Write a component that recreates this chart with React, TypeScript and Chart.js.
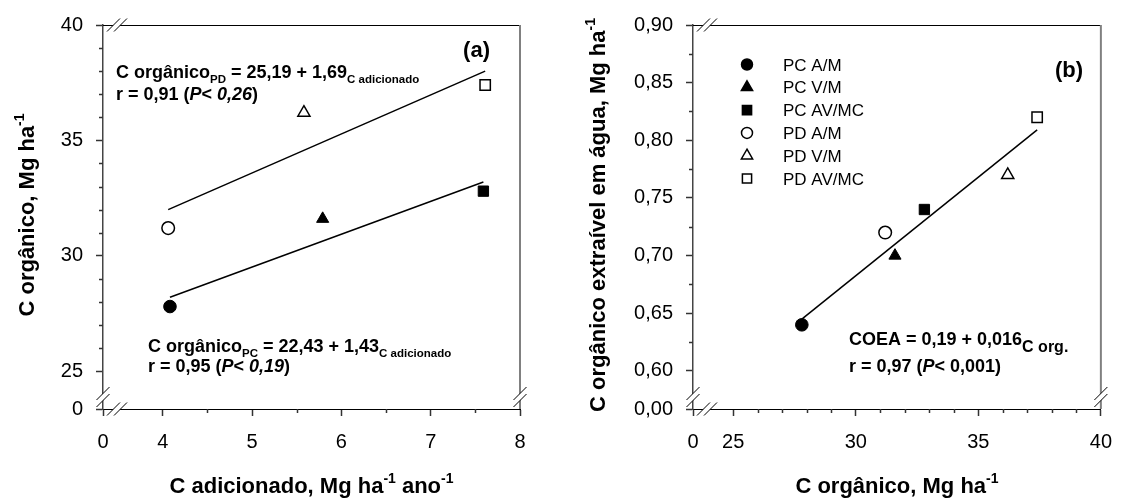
import React, { useEffect, useRef } from 'react';
import { Chart, registerables } from 'chart.js';
import { drawPoint } from 'chart.js/helpers';

Chart.register(...registerables);

// ---------------- DATA ----------------
const treatments = ['PC A/M', 'PC V/M', 'PC AV/MC', 'PD A/M', 'PD V/M', 'PD AV/MC'];
const markerStyles = ['circle', 'triangle', 'rect', 'circle', 'triangle', 'rect'];
const markerFilled = [true, true, true, false, false, false];

// panel (a): C adicionado (x) vs C orgânico (y)
const cAdicionado = [4.08, 5.79, 7.59, 4.06, 5.58, 7.61];
const cOrganico = [27.8, 31.6, 32.8, 31.2, 36.2, 37.4];
// panel (b): C orgânico (x) vs COEA (y)
const coea = [0.64, 0.70, 0.74, 0.72, 0.77, 0.82];

// fitted lines (end points)
const fitPdX = [4.06, 7.61];
const fitPdY = [32.0, 38.0];
const fitPcX = [4.08, 7.59];
const fitPcY = [28.2, 33.2];
const fitBX = [27.8, 37.4];
const fitBY = [0.645, 0.809];

// ticks
const aXMajor = [4, 5, 6, 7, 8];
const aXMinor = [4.5, 5.5, 6.5, 7.5];
const aYMajor = [25, 30, 35, 40];
const aYMinor = [26, 27, 28, 29, 31, 32, 33, 34, 36, 37, 38, 39];
const bXMajor = [25, 30, 35, 40];
const bXMinor = [26, 27, 28, 29, 31, 32, 33, 34, 36, 37, 38, 39];
const bYMajor = [0.6, 0.65, 0.7, 0.75, 0.8, 0.85, 0.9];
const bYMinor = [0.625, 0.675, 0.725, 0.775, 0.825, 0.875];
// axis break positions (shown as "0")
const aXBreak = 3.33;
const aYBreak = 23.36;
const bXBreak = 23.36;
const bYBreak = 0.567;

// ---------------- STYLE HELPERS ----------------
const FONT = '"Liberation Sans", Arial, Helvetica, sans-serif';
const fnt = (size: number, bold = false, italic = false) =>
  `${italic ? 'italic ' : ''}${bold ? 'bold ' : ''}${size}px ${FONT}`;

type Seg = { t: string; font: string; dy?: number };

function drawRich(ctx: CanvasRenderingContext2D, x: number, y: number, segs: Seg[], align: 'left' | 'center' | 'right' = 'left') {
  let w = 0;
  segs.forEach((s) => {
    ctx.font = s.font;
    w += ctx.measureText(s.t).width;
  });
  let cx = align === 'center' ? x - w / 2 : align === 'right' ? x - w : x;
  ctx.textAlign = 'left';
  ctx.textBaseline = 'alphabetic';
  ctx.fillStyle = '#000';
  segs.forEach((s) => {
    ctx.font = s.font;
    ctx.fillText(s.t, cx, y + (s.dy || 0));
    cx += ctx.measureText(s.t).width;
  });
}

function breakMark(ctx: CanvasRenderingContext2D, cx: number, cy: number, orient: 'h' | 'v') {
  const d = 3.5;
  const hx = 6.5;
  const hy = 6.5;
  ctx.save();
  ctx.fillStyle = '#fff';
  ctx.beginPath();
  let s1: number[];
  let s2: number[];
  if (orient === 'h') {
    s1 = [cx - d - hx, cy + hy, cx - d + hx, cy - hy];
    s2 = [cx + d - hx, cy + hy, cx + d + hx, cy - hy];
  } else {
    s1 = [cx - hx, cy - d + hy, cx + hx, cy - d - hy];
    s2 = [cx - hx, cy + d + hy, cx + hx, cy + d - hy];
  }
  ctx.moveTo(s1[0], s1[1]);
  ctx.lineTo(s1[2], s1[3]);
  ctx.lineTo(s2[2], s2[3]);
  ctx.lineTo(s2[0], s2[1]);
  ctx.closePath();
  ctx.fill();
  ctx.strokeStyle = '#000';
  ctx.lineWidth = 1;
  ctx.beginPath();
  ctx.moveTo(s1[0], s1[1]);
  ctx.lineTo(s1[2], s1[3]);
  ctx.moveTo(s2[0], s2[1]);
  ctx.lineTo(s2[2], s2[3]);
  ctx.stroke();
  ctx.restore();
}

interface Note {
  x: number;
  y: number;
  segs: Seg[];
}

interface PanelSpec {
  left: number;
  width: number;
  yAxisWidth: number;
  padRight: number;
  xs: number[];
  ys: number[];
  fits: { x: number[]; y: number[] }[];
  xMin: number;
  xMax: number;
  yMin: number;
  yMax: number;
  xMajor: number[];
  xMinor: number[];
  yMajor: number[];
  yMinor: number[];
  xFmt: (v: number) => string;
  yFmt: (v: number) => string;
  yZero: string;
  xTitle: Seg[];
  yTitle: Seg[];
  yTitleX: number;
  notes: Note[];
  label: { t: string; x: number; y: number };
  legend?: { mx: number; tx: number; y0: number; dy: number };
}

const B18 = fnt(18, true);
const BI18 = fnt(18, true, true);
const SUB = fnt(11.5, true);
const TITLE = fnt(22, true);
const SUP = fnt(14, true);

const panelA: PanelSpec = {
  left: 0,
  width: 560,
  yAxisWidth: 103,
  padRight: 40,
  xs: cAdicionado,
  ys: cOrganico,
  fits: [
    { x: fitPdX, y: fitPdY },
    { x: fitPcX, y: fitPcY },
  ],
  xMin: aXBreak,
  xMax: 8,
  yMin: aYBreak,
  yMax: 40,
  xMajor: aXMajor,
  xMinor: aXMinor,
  yMajor: aYMajor,
  yMinor: aYMinor,
  xFmt: (v) => String(v),
  yFmt: (v) => String(v),
  yZero: '0',
  xTitle: [
    { t: 'C adicionado, Mg ha', font: TITLE },
    { t: '-1', font: SUP, dy: -10 },
    { t: ' ano', font: TITLE },
    { t: '-1', font: SUP, dy: -10 },
  ],
  yTitle: [
    { t: 'C orgânico, Mg ha', font: TITLE },
    { t: '-1', font: SUP, dy: -10 },
  ],
  yTitleX: 34,
  notes: [
    {
      x: 116,
      y: 78,
      segs: [
        { t: 'C orgânico', font: B18 },
        { t: 'PD', font: SUB, dy: 5 },
        { t: ' = 25,19 + 1,69', font: B18 },
        { t: 'C adicionado', font: SUB, dy: 5 },
      ],
    },
    {
      x: 116,
      y: 100,
      segs: [
        { t: 'r = 0,91 (', font: B18 },
        { t: 'P', font: BI18 },
        { t: '< ', font: B18 },
        { t: '0,26', font: BI18 },
        { t: ')', font: B18 },
      ],
    },
    {
      x: 148,
      y: 351.5,
      segs: [
        { t: 'C orgânico', font: B18 },
        { t: 'PC', font: SUB, dy: 5 },
        { t: ' = 22,43 + 1,43', font: B18 },
        { t: 'C adicionado', font: SUB, dy: 5 },
      ],
    },
    {
      x: 148,
      y: 372,
      segs: [
        { t: 'r = 0,95 (', font: B18 },
        { t: 'P', font: BI18 },
        { t: '< ', font: B18 },
        { t: '0,19', font: BI18 },
        { t: ')', font: B18 },
      ],
    },
  ],
  label: { t: '(a)', x: 490, y: 57 },
};

const panelB: PanelSpec = {
  left: 560,
  width: 566,
  yAxisWidth: 133,
  padRight: 16,
  xs: cOrganico,
  ys: coea,
  fits: [{ x: fitBX, y: fitBY }],
  xMin: bXBreak,
  xMax: 40,
  yMin: bYBreak,
  yMax: 0.9,
  xMajor: bXMajor,
  xMinor: bXMinor,
  yMajor: bYMajor,
  yMinor: bYMinor,
  xFmt: (v) => String(v),
  yFmt: (v) => v.toFixed(2).replace('.', ','),
  yZero: '0,00',
  xTitle: [
    { t: 'C orgânico, Mg ha', font: TITLE },
    { t: '-1', font: SUP, dy: -10 },
  ],
  yTitle: [
    { t: 'C orgânico extraível em água, Mg ha', font: TITLE },
    { t: '-1', font: SUP, dy: -10 },
  ],
  yTitleX: 45,
  notes: [
    {
      x: 289,
      y: 345,
      segs: [
        { t: 'COEA = 0,19 + 0,016', font: B18 },
        { t: 'C org.', font: fnt(16, true), dy: 7 },
      ],
    },
    {
      x: 289,
      y: 372,
      segs: [
        { t: 'r = 0,97 (', font: B18 },
        { t: 'P', font: BI18 },
        { t: '< 0,001)', font: B18 },
      ],
    },
  ],
  label: { t: '(b)', x: 523, y: 77 },
  legend: { mx: 187, tx: 223, y0: 64.5, dy: 22.8 },
};

function Panel({ spec }: { spec: PanelSpec }) {
  const ref = useRef<HTMLCanvasElement | null>(null);

  useEffect(() => {
    if (!ref.current) return;
    const s = spec;

    const decor = {
      id: 'decor',
      afterDraw(chart: any) {
        const ctx: CanvasRenderingContext2D = chart.ctx;
        const ca = chart.chartArea;
        const xs = chart.scales.x;
        const ys = chart.scales.y;
        ctx.save();
        // top and right frame
        ctx.strokeStyle = '#000';
        ctx.lineWidth = 1;
        ctx.beginPath();
        ctx.moveTo(ca.left, ca.top + 0.5);
        ctx.lineTo(ca.right, ca.top + 0.5);
        ctx.stroke();
        ctx.strokeStyle = '#808080';
        ctx.lineWidth = 2;
        ctx.beginPath();
        ctx.moveTo(ca.right, ca.top);
        ctx.lineTo(ca.right, ca.bottom);
        ctx.stroke();
        // minor ticks
        ctx.strokeStyle = '#333';
        ctx.lineWidth = 1.5;
        ctx.beginPath();
        s.xMinor.forEach((v) => {
          const px = Math.round(xs.getPixelForValue(v)) + 0.5;
          ctx.moveTo(px, ca.bottom);
          ctx.lineTo(px, ca.bottom + 4);
        });
        s.yMinor.forEach((v) => {
          const py = Math.round(ys.getPixelForValue(v)) + 0.5;
          ctx.moveTo(ca.left - 4, py);
          ctx.lineTo(ca.left, py);
        });
        ctx.stroke();
        // axis breaks
        breakMark(ctx, ca.left + 14, ca.top, 'h');
        breakMark(ctx, ca.left, ca.bottom - 12, 'v');
        breakMark(ctx, ca.left + 14, ca.bottom, 'h');
        breakMark(ctx, ca.right, ca.bottom - 12, 'v');
        // notes
        s.notes.forEach((n) => drawRich(ctx, n.x, n.y, n.segs));
        // panel label
        drawRich(ctx, s.label.x, s.label.y, [{ t: s.label.t, font: fnt(22, true) }], 'right');
        // legend
        if (s.legend) {
          const L = s.legend;
          treatments.forEach((name, i) => {
            const cy = L.y0 + i * L.dy;
            ctx.save();
            ctx.fillStyle = markerFilled[i] ? '#000' : '#fff';
            ctx.strokeStyle = '#000';
            const st = markerStyles[i];
            const r = st === 'circle' ? 5.5 : 6.5;
            drawPoint(ctx, { pointStyle: st as any, rotation: 0, radius: r, borderWidth: markerFilled[i] ? 1 : 1.3 }, L.mx, cy);
            ctx.restore();
            drawRich(ctx, L.tx, cy + 6, [{ t: name, font: fnt(17) }]);
          });
        }
        // axis titles
        drawRich(ctx, (ca.left + ca.right) / 2, 493, s.xTitle, 'center');
        ctx.save();
        ctx.translate(s.yTitleX, (ca.top + ca.bottom) / 2 - 2);
        ctx.rotate(-Math.PI / 2);
        drawRich(ctx, 0, 0, s.yTitle, 'center');
        ctx.restore();
        ctx.restore();
      },
    };

    const datasets: any[] = [];
    s.fits.forEach((f) => {
      datasets.push({
        label: 'fit',
        data: f.x.map((x, i) => ({ x, y: f.y[i] })),
        showLine: true,
        borderColor: '#000',
        borderWidth: 1.5,
        pointRadius: 0,
        fill: false,
      });
    });
    treatments.forEach((name, i) => {
      const st = markerStyles[i];
      datasets.push({
        label: name,
        data: [{ x: s.xs[i], y: s.ys[i] }],
        pointStyle: st,
        pointRadius: st === 'circle' ? 6.3 : st === 'triangle' ? 7 : 7.3,
        backgroundColor: markerFilled[i] ? '#000' : '#fff',
        borderColor: '#000',
        borderWidth: markerFilled[i] ? 1 : 1.5,
      });
    });

    const tickFont = { family: FONT, size: 20 };

    const chart = new Chart(ref.current, {
      type: 'scatter',
      data: { datasets },
      options: {
        responsive: true,
        maintainAspectRatio: false,
        animation: false,
        events: [],
        layout: { padding: { left: 0, top: 24, right: s.padRight, bottom: 0 } },
        plugins: { legend: { display: false }, tooltip: { enabled: false } },
        scales: {
          x: {
            type: 'linear',
            min: s.xMin,
            max: s.xMax,
            afterBuildTicks: (axis: any) => {
              axis.ticks = [s.xMin, ...s.xMajor].map((v) => ({ value: v }));
            },
            afterFit: (axis: any) => {
              axis.height = 90;
            },
            ticks: {
              autoSkip: false,
              maxRotation: 0,
              color: '#000',
              font: tickFont,
              padding: 14,
              callback: (v: any, i: number) => (i === 0 ? '0' : s.xFmt(Number(v))),
            },
            grid: { drawOnChartArea: false, tickLength: 7, tickColor: '#333', tickWidth: 1.5 },
            border: { display: true, color: '#000', width: 1 },
          },
          y: {
            type: 'linear',
            min: s.yMin,
            max: s.yMax,
            afterBuildTicks: (axis: any) => {
              axis.ticks = [s.yMin, ...s.yMajor].map((v) => ({ value: v }));
            },
            afterFit: (axis: any) => {
              axis.width = s.yAxisWidth;
            },
            ticks: {
              autoSkip: false,
              color: '#000',
              font: tickFont,
              padding: 13,
              callback: (v: any, i: number) => (i === 0 ? s.yZero : s.yFmt(Number(v))),
            },
            grid: { drawOnChartArea: false, tickLength: 7, tickColor: '#333', tickWidth: 1.5 },
            border: { display: true, color: '#444', width: 1.5 },
          },
        },
      } as any,
      plugins: [decor],
    });
    return () => chart.destroy();
  }, [spec]);

  return (
    <div style={{ position: 'absolute', left: spec.left, top: 0, width: spec.width, height: 499 }}>
      <canvas ref={ref} />
    </div>
  );
}

export default function App() {
  return (
    <div style={{ position: 'absolute', left: 0, top: 0, width: 1126, height: 499, background: '#fff', overflow: 'hidden' }}>
      <Panel spec={panelA} />
      <Panel spec={panelB} />
    </div>
  );
}
